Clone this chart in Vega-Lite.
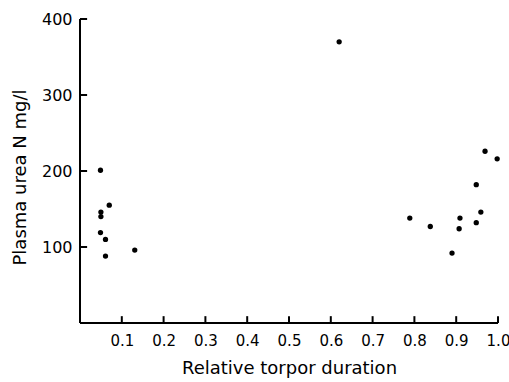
{
  "$schema": "https://vega.github.io/schema/vega-lite/v6.json",
  "autosize": "none",
  "width": 418,
  "height": 304,
  "padding": {"left": 80, "top": 19, "right": 11, "bottom": 59},
  "background": "white",
  "config": {
    "view": {"stroke": null},
    "font": "DejaVu Sans",
    "axis": {
      "domain": false,
      "ticks": false,
      "grid": false,
      "labelColor": "black",
      "titleColor": "black",
      "labelFont": "DejaVu Sans",
      "titleFont": "DejaVu Sans",
      "labelFontSize": 16,
      "titleFontSize": 18,
      "titleFontWeight": "normal"
    }
  },
  "datasets": {
    "points": [
      {"x": 0.049, "y": 201},
      {"x": 0.070, "y": 155},
      {"x": 0.050, "y": 146},
      {"x": 0.050, "y": 140},
      {"x": 0.049, "y": 119},
      {"x": 0.061, "y": 110},
      {"x": 0.061, "y": 88},
      {"x": 0.131, "y": 96},
      {"x": 0.620, "y": 370},
      {"x": 0.789, "y": 138},
      {"x": 0.838, "y": 127},
      {"x": 0.890, "y": 92},
      {"x": 0.909, "y": 138},
      {"x": 0.907, "y": 124},
      {"x": 0.948, "y": 182},
      {"x": 0.959, "y": 146},
      {"x": 0.948, "y": 132},
      {"x": 0.969, "y": 226},
      {"x": 0.998, "y": 216}
    ],
    "xticks": [
      {"t": 0.1}, {"t": 0.2}, {"t": 0.3}, {"t": 0.4}, {"t": 0.5},
      {"t": 0.6}, {"t": 0.7}, {"t": 0.8}, {"t": 0.9}, {"t": 1.0}
    ],
    "yticks": [
      {"t": 100}, {"t": 200}, {"t": 300}, {"t": 400}
    ]
  },
  "layer": [
    {
      "data": {"name": "points"},
      "mark": {"type": "circle", "color": "black", "opacity": 1, "size": 28},
      "encoding": {
        "x": {
          "field": "x",
          "type": "quantitative",
          "scale": {"domain": [0, 1.0], "nice": false, "zero": true},
          "axis": {
            "title": "Relative torpor duration",
            "values": [0.1, 0.2, 0.3, 0.4, 0.5, 0.6, 0.7, 0.8, 0.9, 1.0],
            "format": ".1f",
            "labelFontSize": 15,
            "labelPadding": 10,
            "titlePadding": 11,
            "labelFlush": false
          }
        },
        "y": {
          "field": "y",
          "type": "quantitative",
          "scale": {"domain": [0, 400], "nice": false},
          "axis": {
            "title": "Plasma urea N mg/l",
            "values": [100, 200, 300, 400],
            "labelPadding": 8,
            "titlePadding": 12,
            "titleY": 158,
            "labelFlush": false
          }
        }
      }
    },
    {
      "data": {"name": "xticks"},
      "mark": {"type": "rule", "color": "black", "strokeWidth": 2},
      "encoding": {
        "x": {"field": "t", "type": "quantitative"},
        "y": {"datum": 0, "type": "quantitative"},
        "y2": {"datum": 9}
      }
    },
    {
      "data": {"name": "yticks"},
      "mark": {"type": "rule", "color": "black", "strokeWidth": 2},
      "encoding": {
        "y": {"field": "t", "type": "quantitative"},
        "x": {"datum": 0, "type": "quantitative"},
        "x2": {"datum": 0.017}
      }
    },
    {
      "data": {"name": "points"},
      "mark": {"type": "rule", "color": "black", "strokeWidth": 1.5},
      "encoding": {"y": {"datum": 0, "type": "quantitative"}}
    },
    {
      "data": {"name": "points"},
      "mark": {"type": "rule", "color": "black", "strokeWidth": 1.5},
      "encoding": {"x": {"datum": 0, "type": "quantitative"}}
    }
  ]
}
